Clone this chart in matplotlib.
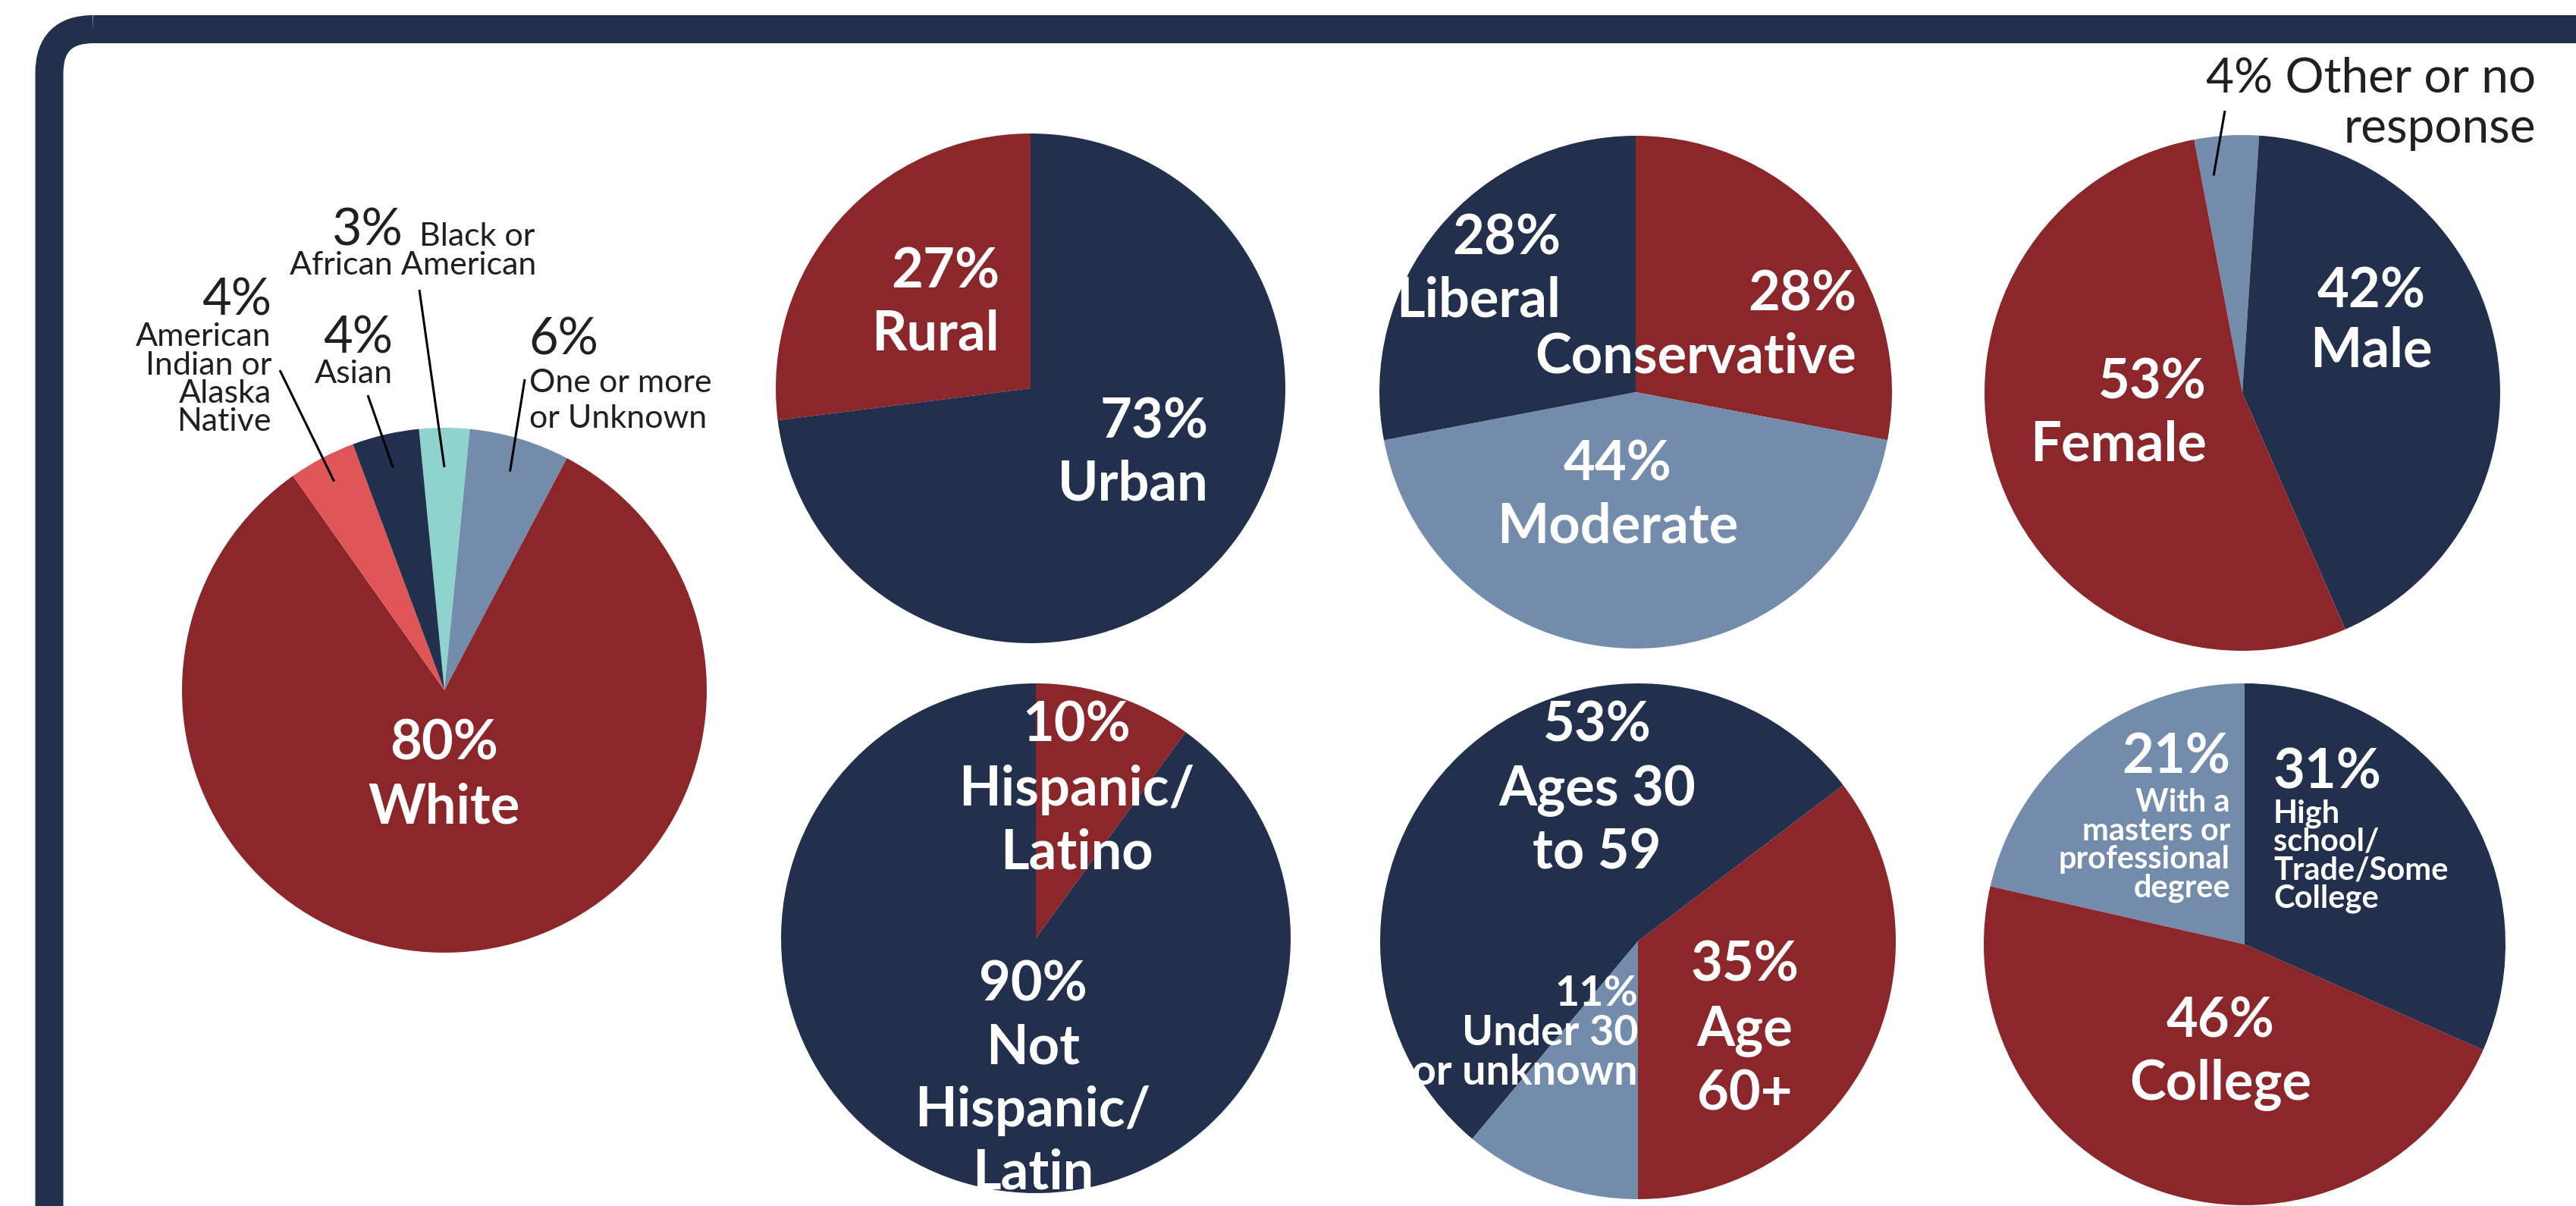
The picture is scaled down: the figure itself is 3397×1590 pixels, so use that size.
import numpy as np
import matplotlib
matplotlib.use("Agg")
import matplotlib.pyplot as plt
from matplotlib.patches import FancyBboxPatch

plt.rcParams['font.family'] = ['Lato', 'DejaVu Sans']

W, H = 3398, 1590

navy = '#23304d'
red = '#8b272b'
slate = '#738cac'
teal = '#8ed3ce'
coral = '#e05556'
ink = '#231f20'

# data
race_labels = ['Black or African American', 'One or more or Unknown', 'White',
               'American Indian or Alaska Native', 'Asian']
race_values = [3, 6, 80, 4, 4]
race_colors = [teal, slate, red, coral, navy]

place_labels = ['Rural', 'Urban']
place_values = [27, 73]

politics_labels = ['Conservative', 'Moderate', 'Liberal']
politics_values = [28, 44, 28]

gender_labels = ['Other or no response', 'Male', 'Female']
gender_values = [4, 42, 53]

hispanic_labels = ['Hispanic/Latino', 'Not Hispanic/Latino']
hispanic_values = [10, 90]

age_labels = ['Age 60+', 'Ages 30 to 59', 'Under 30 or unknown']
age_values = [35, 53, 11]

edu_labels = ['With a masters or professional degree', 'College', 'High school/Trade/Some College']
edu_values = [21, 46, 31]

fig = plt.figure(figsize=(W / 100, H / 100), dpi=100)


def draw_pie(cx, cy, r, values, colors, start, ccw=True):
    ax = fig.add_axes([(cx - r) / W, (H - cy - r) / H, 2 * r / W, 2 * r / H])
    wedges, _ = ax.pie(values, colors=colors, startangle=start, counterclock=ccw,
                       radius=1, wedgeprops={'linewidth': 0})
    ax.set_xlim(-1, 1)
    ax.set_ylim(-1, 1)
    ax.axis('off')
    return wedges


race_start = 90 + 360 * race_values[0] / sum(race_values) / 2
race_w = draw_pie(586, 910, 346, race_values, race_colors, race_start, ccw=False)
draw_pie(1359, 512, 336, place_values, [red, navy], 90)
draw_pie(2157, 517, 338, politics_values, [red, slate, navy], 90, ccw=False)
gender_w = draw_pie(2957, 518, 340, gender_values, [slate, navy, red], 100.8, ccw=False)
draw_pie(1366, 1237, 336, hispanic_values, [red, navy], 90, ccw=False)
draw_pie(2160, 1241, 340, age_values, [red, navy, slate], -90)
draw_pie(2960, 1245, 344, edu_values, [slate, red, navy], 90)

# overlay in pixel units for frame, labels and leader lines
ov = fig.add_axes([0, 0, 1, 1], zorder=5)
ov.set_xlim(0, W)
ov.set_ylim(H, 0)
ov.axis('off')

frame = FancyBboxPatch((65, 38.5), W + 600, H + 600,
                       boxstyle='round,pad=0,rounding_size=58',
                       fill=False, ec=navy, lw=37 * 0.72)
ov.add_patch(frame)


def put(x, y, txt, size, ha='center', color='white', weight='bold', step=84):
    for i, line in enumerate(txt.split('\n')):
        ov.text(x, y + i * step, line, fontsize=size, ha=ha, va='baseline',
                color=color, fontweight=weight)


def leader(x0, y0, cx, cy, r, wedge, k=0.87, shift=0):
    th = np.deg2rad((wedge.theta1 + wedge.theta2) / 2 + shift)
    ov.plot([x0, cx + k * r * np.cos(th)], [y0, cy - k * r * np.sin(th)],
            color='black', lw=2.2, solid_capstyle='butt')


big = 52
small = 31
# race pie
put(586, 1002, "80%\nWhite", big, step=83)
put(531, 324, "3%", 49, ha='right', color=ink, weight='normal')
put(553, 324, "Black or", small, ha='left', color=ink, weight='normal')
put(707, 362, "African American", small, ha='right', color=ink, weight='normal')
put(358, 416, "4%", 48, ha='right', color=ink, weight='normal')
put(358, 456, "American\nIndian or\nAlaska\nNative", small, ha='right', color=ink,
    weight='normal', step=37.5)
put(518, 465, "4%", 48, ha='right', color=ink, weight='normal')
put(518, 505, "Asian", small, ha='right', color=ink, weight='normal')
put(697, 467, "6%", 48, ha='left', color=ink, weight='normal')
put(698, 517, "One or more\nor Unknown", small, ha='left', color=ink, weight='normal', step=47)
leader(369, 488, 586, 910, 346, race_w[3], k=0.9)
leader(485, 521, 586, 910, 346, race_w[4])
leader(553, 382, 586, 910, 346, race_w[0], k=0.85)
leader(692, 500, 586, 910, 346, race_w[1])

# rural / urban
put(1318, 380, "27%\nRural", big, ha='right', step=82)
put(1594, 578, "73%\nUrban", big, ha='right', step=82)

# political view
put(2058, 336, "28%\nLiberal", big, ha='right', step=82)
put(2448, 410, "28%\nConservative", big, ha='right', step=82)
put(2133, 633, "44%\nModerate", big, step=83)

# gender
put(3127, 406, "42%\nMale", big, step=78)
put(2910, 525, "53%\nFemale", big, ha='right', step=83)
put(3344, 122, "4% Other or no\nresponse", 46, ha='right', color=ink, weight='normal', step=66)
leader(2934, 146, 2957, 518, 340, gender_w[0], k=0.85, shift=4)

# hispanic
put(1420, 978, "10%\nHispanic/\nLatino", big, step=84)
put(1362, 1320, "90%\nNot\nHispanic/\nLatin", big, step=82.5)

# age
put(2106, 978, "53%\nAges 30\nto 59", big, step=84)
put(2301, 1293, "35%\nAge\n60+", big, step=85)
put(2160, 1326, "11%\nUnder 30\nor unknown", 40, ha='right', step=52)

# education
put(2941, 1019, "21%", big, ha='right')
put(2941, 1070, "With a\nmasters or\nprofessional\ndegree", 30, ha='right', step=37.5)
put(2998, 1039, "31%", big, ha='left')
put(2998, 1084, "High\nschool/\nTrade/Some\nCollege", 30, ha='left', step=37.5)
put(2928, 1367, "46%\nCollege", big, step=82)

fig.savefig("out.png", dpi=100, facecolor='white')
